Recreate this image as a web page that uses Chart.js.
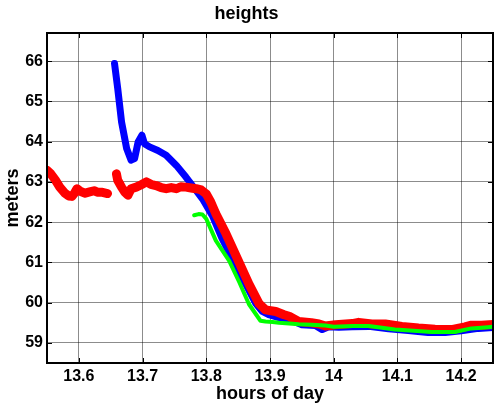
<!DOCTYPE html>
<html>
<head>
<meta charset="utf-8">
<script src="https://cdn.jsdelivr.net/npm/chart.js@4/dist/chart.umd.min.js"></script>
<style>
  html, body { margin: 0; padding: 0; background: #fff; }
  #wrap { width: 494px; height: 408px; }
</style>
</head>
<body>
<div id="wrap"><canvas id="heightsChart" width="494" height="408"></canvas></div>
<script>
const ctx = document.getElementById("heightsChart").getContext("2d");

// Tick values
const xTicks = [13.6, 13.7, 13.8, 13.9, 14, 14.1, 14.2];
const yTicks = [59, 60, 61, 62, 63, 64, 65, 66];

// Blue track
const blueHours = [13.656, 13.661, 13.667, 13.675, 13.682, 13.6875, 13.693, 13.699, 13.703, 13.711,
  13.724, 13.737, 13.753, 13.768, 13.784, 13.794, 13.81, 13.824, 13.85, 13.862, 13.878, 13.888,
  13.898, 13.914, 13.935, 13.95, 13.971, 13.982, 13.992, 14.008, 14.029, 14.055, 14.086, 14.117,
  14.148, 14.175, 14.2, 14.227, 14.25];
const blueMeters = [65.94, 65.32, 64.49, 63.83, 63.54, 63.58, 63.99, 64.16, 63.95, 63.87,
  63.78, 63.66, 63.41, 63.12, 62.79, 62.58, 62.15, 61.62, 60.8, 60.46, 59.97, 59.78,
  59.7, 59.63, 59.55, 59.45, 59.43, 59.33, 59.4, 59.39, 59.4, 59.41, 59.35, 59.31,
  59.26, 59.26, 59.3, 59.36, 59.38];

// Red track (null marks the break in the record)
const redHours = [13.55, 13.556, 13.563, 13.57, 13.578, 13.584, 13.589, 13.593, 13.597, 13.603,
  13.61, 13.617, 13.624, 13.63, 13.637, 13.645, 13.652,
  13.659, 13.661, 13.667, 13.672, 13.677, 13.682, 13.69, 13.698, 13.706, 13.713, 13.721, 13.729,
  13.737, 13.745, 13.753, 13.76, 13.768, 13.776, 13.784, 13.792, 13.8, 13.807, 13.815, 13.831,
  13.852, 13.867, 13.883, 13.893, 13.909, 13.922, 13.93, 13.945, 13.965, 13.977, 13.987, 14.003,
  14.029, 14.039, 14.06, 14.081, 14.107, 14.133, 14.159, 14.185, 14.206, 14.216, 14.232, 14.25];
const redMeters = [63.29, 63.2, 63.05, 62.87, 62.72, 62.65, 62.64, 62.72, 62.83, 62.76,
  62.72, 62.75, 62.78, 62.74, 62.74, 62.71, null,
  63.2, 63.04, 62.87, 62.75, 62.67, 62.83, 62.87, 62.93, 63.0, 62.94, 62.91, 62.86,
  62.83, 62.86, 62.83, 62.88, 62.87, 62.85, 62.83, 62.8, 62.7, 62.5, 62.21, 61.71,
  60.98, 60.46, 59.97, 59.82, 59.78, 59.7, 59.66, 59.53, 59.5, 59.47, 59.42, 59.45,
  59.48, 59.51, 59.47, 59.47, 59.41, 59.37, 59.34, 59.33, 59.4, 59.44, 59.44, 59.46];

// Green track
const greenHours = [13.781, 13.788, 13.794, 13.8, 13.815, 13.836, 13.852, 13.867, 13.885, 13.893,
  13.904, 13.914, 13.93, 13.945, 13.965, 13.987, 14.0, 14.03, 14.055, 14.096, 14.125, 14.154,
  14.19, 14.216, 14.242, 14.25];
const greenMeters = [62.17, 62.2, 62.19, 62.08, 61.54, 61.04, 60.5, 59.96, 59.55, 59.53,
  59.52, 59.5, 59.48, 59.46, 59.45, 59.43, 59.4, 59.42, 59.42, 59.33, 59.3, 59.27,
  59.27, 59.36, 59.39, 59.4];

const toPoints = (xs, ys) => xs.map((x, i) => ({ x: x, y: ys[i] }));

const boldFont = (size) => ({ family: "'Liberation Sans', Arial, sans-serif", size: size, weight: "bold" });

const heightsChart = new Chart(ctx, {
  type: "line",
  data: {
    datasets: [
      {
        label: "blue",
        data: toPoints(blueHours, blueMeters),
        borderColor: "#0000ff",
        borderWidth: 7,
        order: 3,
      },
      {
        label: "red",
        data: toPoints(redHours, redMeters),
        borderColor: "#ff0000",
        borderWidth: 9,
        order: 2,
      },
      {
        label: "green",
        data: toPoints(greenHours, greenMeters),
        borderColor: "#00ff00",
        borderWidth: 4,
        order: 1,
      },
    ],
  },
  options: {
    responsive: false,
    animation: false,
    layout: { padding: { left: 0, right: 1, top: 0, bottom: 0 } },
    elements: {
      point: { radius: 0, hoverRadius: 0 },
      line: { tension: 0, fill: false, borderCapStyle: "round", borderJoinStyle: "round" },
    },
    spanGaps: false,
    scales: {
      x: {
        type: "linear",
        min: 13.55,
        max: 14.25,
        afterBuildTicks: (scale) => { scale.ticks = xTicks.map(v => ({ value: v })); },
        afterFit: (scale) => { scale.height = 45; },
        ticks: {
          font: boldFont(16),
          color: "#000",
          padding: 4,
          maxRotation: 0,
          autoSkip: false,
          callback: (value) => String(Math.round(value * 10) / 10),
        },
        grid: { color: "rgba(0,0,0,0.45)", lineWidth: 1, drawTicks: false },
        border: { display: false },
        title: { display: true, text: "hours of day", font: boldFont(18), color: "#000", padding: { top: 0, bottom: 3 } },
      },
      y: {
        type: "linear",
        min: 58.5,
        max: 66.7,
        afterBuildTicks: (scale) => { scale.ticks = yTicks.map(v => ({ value: v })); },
        afterFit: (scale) => { scale.width = 47; },
        ticks: {
          font: boldFont(16),
          color: "#000",
          padding: 4,
          autoSkip: false,
        },
        grid: { color: "rgba(0,0,0,0.45)", lineWidth: 1, drawTicks: false },
        border: { display: false },
        title: { display: true, text: "meters", font: boldFont(18), color: "#000", padding: { top: 2, bottom: 0 } },
      },
    },
    plugins: {
      legend: { display: false },
      tooltip: { enabled: false },
      title: {
        display: true,
        text: "heights",
        font: boldFont(18),
        color: "#000",
        padding: { top: 3, bottom: 8.4 },
      },
    },
  },
  plugins: [
    {
      id: "boxFrame",
      afterDraw: function (chart) {
        const c = chart.ctx;
        const area = chart.chartArea;
        const xs = chart.scales.x;
        const ys = chart.scales.y;
        c.save();
        c.strokeStyle = "#000";
        // inward tick marks on all four sides
        c.lineWidth = 1;
        c.beginPath();
        xTicks.forEach(v => {
          const px = Math.round(xs.getPixelForValue(v)) + 0.5;
          c.moveTo(px, area.top); c.lineTo(px, area.top + 5);
          c.moveTo(px, area.bottom); c.lineTo(px, area.bottom - 5);
        });
        yTicks.forEach(v => {
          const py = Math.round(ys.getPixelForValue(v)) + 0.5;
          c.moveTo(area.left, py); c.lineTo(area.left + 5, py);
          c.moveTo(area.right, py); c.lineTo(area.right - 5, py);
        });
        c.stroke();
        // axes box
        c.lineWidth = 2;
        c.strokeRect(area.left, area.top, area.right - area.left, area.bottom - area.top);
        c.restore();
      },
    },
  ],
});
</script>
</body>
</html>
